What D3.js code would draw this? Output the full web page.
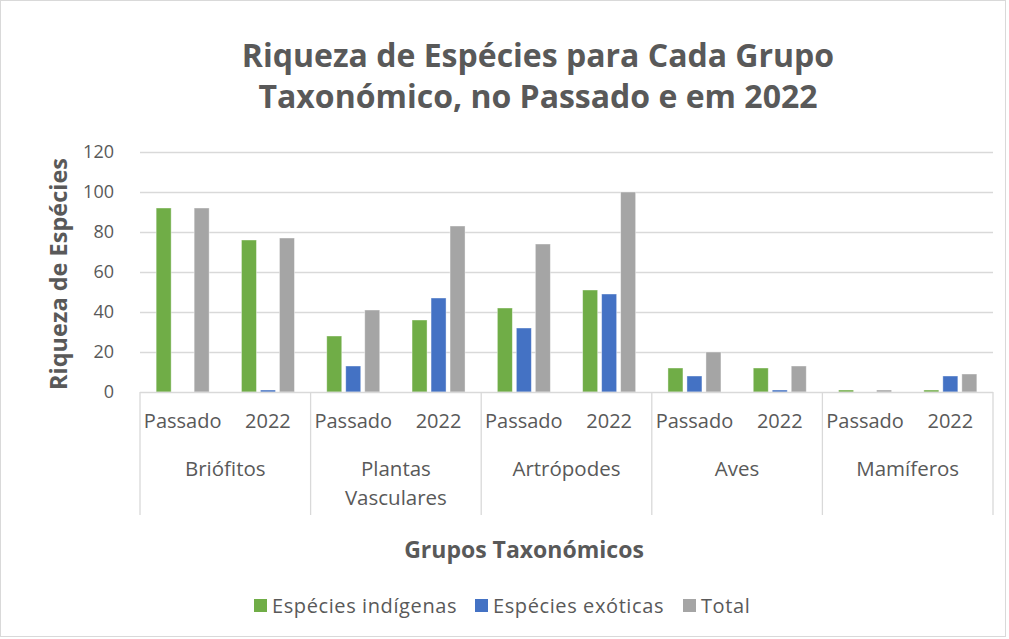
<!DOCTYPE html>
<html>
<head>
<meta charset="utf-8">
<script src="https://cdn.jsdelivr.net/npm/d3@7"></script>
<style>
  body { margin: 0; background: #fff; }
  text { font-family: "Open Sans", sans-serif; fill: #595959; }
</style>
</head>
<body>
<div id="chart"></div>
<script>
const groups = ["Briófitos", "Plantas Vasculares", "Artrópodes", "Aves", "Mamíferos"];
const periods = ["Passado", "2022"];
const series = ["Espécies indígenas", "Espécies exóticas", "Total"];
const colors = ["#70ad47", "#4472c4", "#a5a5a5"];
// values per group, per period: [indígenas, exóticas, total]
const indigenas = [92, 76, 28, 36, 42, 51, 12, 12, 1, 1];
const exoticas = [0, 1, 13, 47, 32, 49, 8, 1, 0, 8];
const totals = [92, 77, 41, 83, 74, 100, 20, 13, 1, 9];
const yTicks = [0, 20, 40, 60, 80, 100, 120];

const W = 1009, H = 639;
const plot = { left: 140, right: 993, top: 152, bottom: 392 };

const svg = d3.select("#chart").append("svg")
  .attr("width", W).attr("height", H);

svg.append("rect")
  .attr("x", 0.5).attr("y", 0.5)
  .attr("width", 1005).attr("height", 636)
  .attr("fill", "#fff").attr("stroke", "#d9d9d9");

const rows = [];
groups.forEach((g, gi) => {
  periods.forEach((p, pi) => {
    const k = gi * 2 + pi;
    [indigenas[k], exoticas[k], totals[k]].forEach((v, si) => {
      rows.push({ group: g, period: p, serie: series[si], value: v });
    });
  });
});

const x0 = d3.scaleBand().domain(groups).range([plot.left, plot.right]);
const x1 = d3.scaleBand().domain(periods).range([0, x0.bandwidth()]);
const x2 = d3.scaleBand().domain(series).range([0, x1.bandwidth()])
  .paddingInner(0.21).paddingOuter(0.85);
const y = d3.scaleLinear().domain([0, 120]).range([plot.bottom, plot.top]);
const color = d3.scaleOrdinal().domain(series).range(colors);

// gridlines
svg.append("g")
  .selectAll("line")
  .data(yTicks.slice(1))
  .join("line")
  .attr("x1", plot.left).attr("x2", plot.right)
  .attr("y1", d => y(d) + 0.5).attr("y2", d => y(d) + 0.5)
  .attr("stroke", "#d9d9d9").attr("stroke-width", 1.3);

// y axis labels
svg.append("g")
  .selectAll("text")
  .data(yTicks)
  .join("text")
  .attr("x", 114)
  .attr("y", d => y(d))
  .attr("dy", "0.35em")
  .attr("text-anchor", "end")
  .attr("font-size", "18px")
  .text(d => d);

// bars
svg.append("g")
  .selectAll("rect")
  .data(rows)
  .join("rect")
  .attr("x", d => x0(d.group) + x1(d.period) + x2(d.serie))
  .attr("y", d => y(d.value))
  .attr("width", x2.bandwidth())
  .attr("height", d => y(0) - y(d.value))
  .attr("fill", d => color(d.serie))
  .attr("stroke", "#fff")
  .attr("stroke-opacity", 0.5)
  .attr("stroke-width", 0.8);

// category axis
svg.append("line")
  .attr("x1", plot.left).attr("x2", plot.right)
  .attr("y1", plot.bottom + 0.5).attr("y2", plot.bottom + 0.5)
  .attr("stroke", "#d9d9d9").attr("stroke-width", 1.3);

const bounds = groups.map(g => x0(g)).concat([plot.right]);
svg.append("g")
  .selectAll("line")
  .data(bounds)
  .join("line")
  .attr("x1", d => d).attr("x2", d => d)
  .attr("y1", plot.bottom).attr("y2", 515)
  .attr("stroke", "#d9d9d9").attr("stroke-width", 1.3);

// period labels
const periodLabels = [];
groups.forEach(g => periods.forEach(p => periodLabels.push({ g, p })));
svg.append("g")
  .selectAll("text")
  .data(periodLabels)
  .join("text")
  .attr("x", d => x0(d.g) + x1(d.p) + x1.bandwidth() / 2)
  .attr("y", 428)
  .attr("text-anchor", "middle")
  .attr("font-size", "20px")
  .text(d => d.p);

// group labels
const gl = svg.append("g")
  .selectAll("text")
  .data(groups)
  .join("text")
  .attr("x", d => x0(d) + x0.bandwidth() / 2)
  .attr("y", 476)
  .attr("text-anchor", "middle")
  .attr("font-size", "20.5px");
gl.each(function (d) {
  const words = d === "Plantas Vasculares" ? ["Plantas", "Vasculares"] : [d];
  d3.select(this).selectAll("tspan")
    .data(words)
    .join("tspan")
    .attr("x", x0(d) + x0.bandwidth() / 2)
    .attr("dy", (w, i) => i === 0 ? 0 : 29)
    .text(w => w);
});

// title
svg.append("text")
  .attr("x", 538).attr("y", 0)
  .attr("text-anchor", "middle")
  .attr("font-size", "32px")
  .attr("font-weight", "bold")
  .selectAll("tspan")
  .data(["Riqueza de Espécies para Cada Grupo", "Taxonómico, no Passado e em 2022"])
  .join("tspan")
  .attr("x", 538)
  .attr("y", (d, i) => 67 + i * 41)
  .text(d => d);

// axis titles
svg.append("text")
  .attr("transform", "translate(67, 274) rotate(-90)")
  .attr("text-anchor", "middle")
  .attr("font-size", "23.5px")
  .attr("font-weight", "bold")
  .text("Riqueza de Espécies");

svg.append("text")
  .attr("x", 524).attr("y", 558)
  .attr("text-anchor", "middle")
  .attr("font-size", "23px")
  .attr("font-weight", "bold")
  .text("Grupos Taxonómicos");

// legend
const legendX = [254, 475, 683];
const legend = svg.append("g")
  .selectAll("g")
  .data(series)
  .join("g")
  .attr("transform", (d, i) => `translate(${legendX[i]}, 599)`);
legend.append("rect")
  .attr("width", 13).attr("height", 13)
  .attr("fill", d => color(d));
legend.append("text")
  .attr("x", 18).attr("y", 7)
  .attr("dy", "0.35em")
  .attr("font-size", "20px")
  .attr("letter-spacing", "0.6px")
  .text(d => d);
</script>
</body>
</html>
